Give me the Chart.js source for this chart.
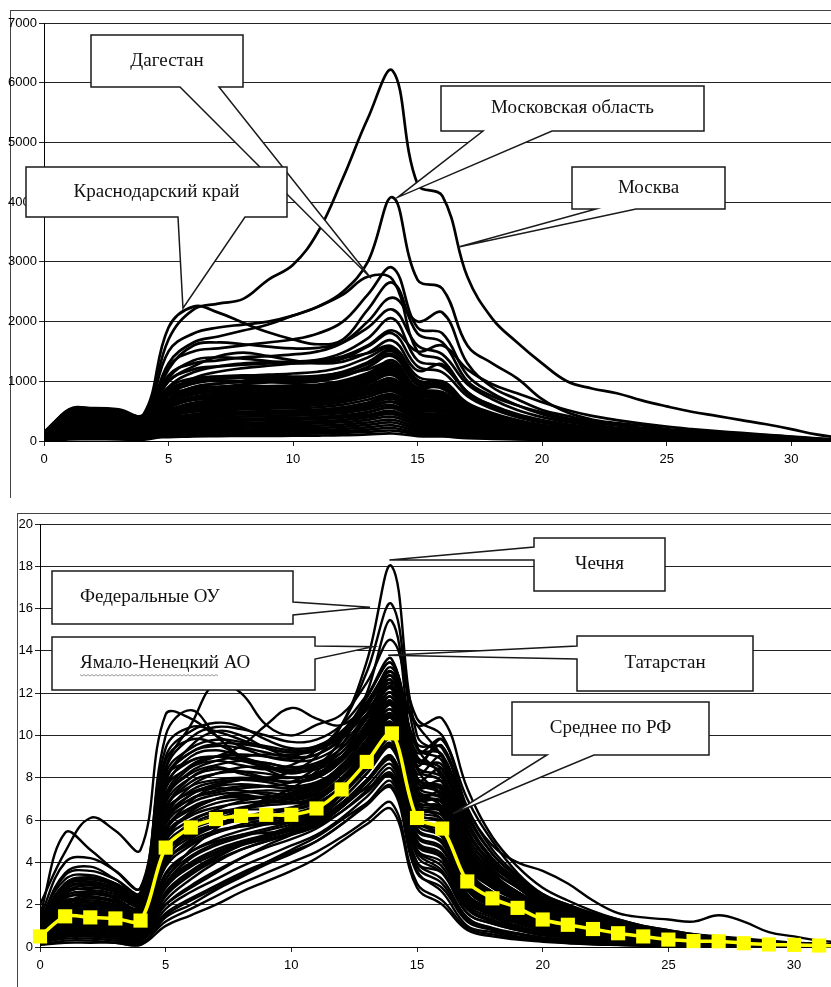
<!DOCTYPE html>
<html>
<head>
<meta charset="utf-8">
<script src="https://cdn.jsdelivr.net/npm/chart.js@4.4.0/dist/chart.umd.min.js"></script>
<style>
  body { margin: 0; background: #fff; width: 831px; height: 987px; overflow: hidden; position: relative; }
  .frame { position: absolute; border-left: 1px solid #444; border-top: 1px solid #444; }
  canvas { position: absolute; left: 0; }
</style>
</head>
<body>
<div class="frame" style="left:10px;top:10px;width:830px;height:487px"></div>
<div class="frame" style="left:17px;top:513px;width:820px;height:480px"></div>
<canvas id="topChart" width="831" height="500" style="top:0"></canvas>
<canvas id="bottomChart" width="831" height="487" style="top:500px"></canvas>
<script>
// Day index along the x axis
const days = [0,1,2,3,4,5,6,7,8,9,10,11,12,13,14,15,16,17,18,19,20,21,22,23,24,25,26,27,28,29,30,31,32];
const xTicks = [0,5,10,15,20,25,30];
const yTicksTop = [0,1000,2000,3000,4000,5000,6000,7000];
const yTicksBottom = [0,2,4,6,8,10,12,14,16,18,20];

// ---- Top chart: absolute values ----
const moscow = [150,500,520,500,420,1700,2200,2300,2380,2700,2950,3500,4400,5400,6200,4300,4100,2750,2050,1650,1300,1000,880,800,680,580,490,420,350,280,200,110,50];
const moscowOblast = [100,450,470,450,380,1500,1800,1900,1950,2000,2100,2250,2500,3000,4080,2700,2550,1600,1300,1050,700,480,360,300,260,200,170,140,120,100,70,40,15];
const krasnodar = [100,530,550,530,450,1900,2250,2150,1980,1820,1700,1620,1700,2200,2650,1800,1650,1000,750,600,480,380,310,260,210,170,140,115,95,75,50,30,10];
const dagestan = [80,420,440,420,350,1300,1650,1750,1850,1950,2100,2250,2450,2750,2700,1500,1350,800,600,450,350,280,230,190,150,120,100,80,65,50,35,20,10];

const otherRegionsTop = [
  [60,380,400,380,300,1250,1500,1550,1600,1650,1700,1800,2000,2450,2900,1900,1800,1100,800,600,450,350,280,220,180,150,120,100,80,60,40,25,10],
  [50,350,370,350,280,1100,1300,1350,1400,1420,1450,1500,1650,2000,2400,2000,2150,1300,900,700,520,420,330,270,220,180,140,110,90,70,50,30,15],
  [40,300,320,310,260,1200,1600,1650,1620,1580,1550,1560,1650,1900,2200,1600,1450,950,700,520,400,320,260,210,170,140,110,90,70,55,40,25,10],
  [30,260,280,260,220,900,1150,1250,1300,1320,1330,1360,1480,1720,2050,1350,1250,820,590,440,340,270,215,175,145,118,95,78,60,45,30,20,8],
  [45,290,310,300,240,1050,1350,1400,1380,1340,1300,1310,1380,1580,1800,1250,1150,750,540,400,310,250,200,160,130,105,85,70,55,40,28,18,6],
  [35,480,500,470,380,1000,1250,1420,1480,1420,1350,1300,1330,1480,1680,1180,1280,820,560,420,320,260,210,170,135,110,90,72,56,42,30,18,6],
  [30,220,240,230,190,780,1050,1160,1220,1260,1300,1340,1390,1470,1580,1080,980,640,470,350,270,220,175,140,115,95,75,60,48,36,25,15,5],
  [28,240,250,240,200,850,1000,1060,1090,1110,1130,1160,1240,1400,1550,1020,960,620,450,340,260,210,170,135,110,90,72,58,45,34,24,14,5],
  [25,200,215,200,165,760,960,1010,1000,990,980,1000,1080,1240,1450,960,880,560,400,300,230,185,150,120,98,80,64,52,40,30,21,12,4],
  [25,440,460,440,360,700,860,900,950,980,1010,1050,1110,1200,1300,880,820,520,380,290,220,175,140,112,92,75,60,48,38,28,20,12,4],
  [20,180,195,180,150,640,800,830,850,860,875,905,965,1080,1250,820,760,480,350,260,200,160,128,102,84,68,54,44,34,26,18,10,4],
  [22,500,520,490,400,620,720,760,780,790,800,820,880,990,1120,760,700,440,320,240,185,148,118,95,78,62,50,40,32,24,16,9,3],
  [18,160,170,160,130,560,690,700,720,735,745,765,830,920,1040,690,640,410,300,225,170,138,110,88,72,58,46,37,29,22,15,8,3],
  [40,420,440,420,340,520,620,650,670,680,690,710,760,860,960,650,600,380,280,210,160,128,102,82,67,54,43,34,27,20,14,8,3],
  [15,140,150,140,110,480,580,605,620,630,640,660,710,800,900,600,560,350,260,195,148,118,94,76,62,50,40,32,25,19,13,7,2],
  [30,380,400,380,300,440,530,560,580,590,600,615,660,740,830,560,520,330,240,180,138,110,88,70,57,46,37,29,23,17,12,7,2],
  [12,120,130,120,95,400,490,510,530,540,550,565,610,690,780,520,480,300,220,166,127,101,81,65,53,42,34,27,21,16,11,6,2],
  [25,330,345,330,260,370,450,470,490,500,510,525,560,630,720,480,440,280,205,154,118,94,75,60,49,39,31,25,19,15,10,6,2],
  [10,100,110,100,80,340,410,430,450,460,470,480,515,580,660,440,405,255,188,141,108,86,69,55,45,36,29,23,18,13,9,5,2],
  [20,290,300,290,230,310,380,400,410,420,430,440,470,530,600,400,370,235,172,129,99,79,63,50,41,33,26,21,16,12,8,5,2],
  [8,85,90,85,70,280,340,360,370,380,390,400,430,480,550,365,340,215,157,118,90,72,58,46,38,30,24,19,15,11,8,4,1],
  [18,250,260,250,200,260,310,330,340,350,355,365,390,440,500,330,305,195,143,107,82,66,52,42,34,27,22,17,13,10,7,4,1],
  [6,70,75,70,55,230,280,295,305,312,318,327,350,395,450,297,275,175,128,96,74,59,47,38,31,24,19,15,12,9,6,3,1],
  [15,210,220,210,170,210,250,265,275,280,285,293,314,355,405,266,246,157,115,86,66,53,42,34,27,22,17,14,11,8,5,3,1],
  [5,55,60,55,45,180,220,232,240,246,250,257,275,310,355,234,216,138,101,76,58,46,37,30,24,19,15,12,9,7,5,3,1],
  [12,170,180,170,140,160,190,200,208,212,216,222,238,270,310,203,187,119,87,66,50,40,32,26,21,16,13,10,8,6,4,2,1],
  [4,40,45,40,32,135,160,170,176,180,183,188,201,228,262,172,158,101,74,56,43,34,27,22,18,14,11,9,7,5,3,2,0],
  [10,130,140,130,105,110,135,142,147,150,153,157,168,190,218,143,132,84,62,46,36,28,23,18,15,11,9,7,6,4,3,2,0],
  [3,28,30,28,22,90,108,114,118,120,122,126,135,152,175,115,106,67,49,37,29,23,18,14,12,9,7,6,4,3,2,1,0],
  [8,90,95,90,72,65,78,82,85,87,88,91,97,110,126,83,76,48,35,27,21,16,13,10,8,7,5,4,3,2,2,1,0],
  [70,520,540,510,430,900,1050,1080,1050,1000,960,930,950,1060,1200,900,1000,620,420,320,250,200,160,130,105,85,68,55,43,32,22,13,5],
  [35,470,490,460,360,760,880,910,920,910,900,910,960,1100,1350,880,940,600,410,310,240,192,154,123,100,80,64,51,40,30,21,12,4],
  [15,200,220,200,160,350,580,700,780,820,850,880,930,1020,1150,720,650,400,290,220,170,135,108,86,70,56,45,36,28,21,14,8,3],
  [10,150,160,150,120,250,400,500,560,600,630,660,710,790,880,560,500,310,225,170,130,104,83,66,54,43,34,27,21,16,11,6,2],
  [50,400,420,400,320,1000,1200,1250,1280,1300,1320,1350,1420,1600,1850,1500,1600,1200,950,800,650,520,420,350,290,240,200,165,135,105,75,45,20],
  [30,300,320,300,240,700,900,960,1000,1020,1040,1070,1140,1300,1500,1000,920,580,420,320,245,195,158,127,103,84,67,54,42,31,22,13,5],
  [20,220,230,220,180,620,780,820,840,850,860,880,940,1060,1220,800,740,470,340,255,195,156,126,101,82,66,53,43,33,25,17,10,4],
  [15,180,190,180,145,540,690,730,750,760,770,790,850,960,1100,720,670,420,305,228,175,140,112,90,73,59,47,38,30,22,15,9,3],
  [25,280,300,280,230,760,980,1040,1060,1060,1060,1080,1150,1290,1450,960,900,570,410,305,235,188,150,121,98,79,63,51,40,30,21,12,4],
  [12,140,150,140,115,450,580,620,640,650,660,680,730,830,960,620,570,360,260,195,150,120,96,77,62,50,40,32,25,19,13,8,3],
  [18,200,210,200,160,580,740,790,810,820,830,850,910,1030,1180,770,710,450,325,243,187,150,120,96,78,63,50,41,32,24,16,9,3],
  [10,110,120,110,90,380,500,540,560,570,580,600,650,740,860,550,505,320,232,174,134,107,86,69,56,45,36,29,22,17,12,7,2],
  [28,330,350,330,270,820,1020,1080,1100,1090,1080,1090,1160,1320,1520,1020,960,620,450,335,258,206,165,132,107,87,69,56,44,33,23,13,5],
  [8,90,100,90,75,320,430,465,485,495,505,520,565,645,750,480,440,280,203,152,117,94,75,60,49,39,31,25,19,15,10,6,2],
  [22,240,250,240,195,660,840,890,910,920,925,945,1010,1140,1310,860,800,510,370,275,212,170,136,109,88,71,57,46,36,27,19,11,4],
  [6,70,80,70,58,270,360,390,410,420,430,445,485,555,650,415,380,240,175,131,101,81,65,52,42,34,27,22,17,13,9,5,2],
  [16,170,180,170,140,500,640,680,700,710,720,740,795,900,1040,680,630,400,290,217,167,134,107,86,70,56,45,36,28,21,14,8,3],
  [5,55,60,55,45,220,300,330,350,360,370,385,420,485,570,360,330,210,152,114,88,70,56,45,37,29,23,19,15,11,8,4,1],
  [24,260,275,260,210,700,900,960,990,1000,1010,1030,1100,1240,1420,940,880,560,405,302,232,186,149,119,97,78,62,50,39,29,20,12,4],
  [10,125,135,125,100,420,540,580,600,610,620,640,690,785,910,590,545,345,250,187,144,115,92,74,60,48,38,31,24,18,12,7,2],
  [14,155,165,155,125,480,610,650,670,680,690,710,765,870,1000,650,600,380,276,206,159,127,102,82,66,53,43,34,27,20,14,8,3],
  [4,45,50,45,36,180,250,275,290,300,310,322,352,410,480,300,275,175,127,95,73,58,47,38,31,24,19,15,12,9,6,3,1],
  [20,230,240,230,185,640,810,860,880,890,900,920,985,1115,1280,840,780,495,360,268,207,165,132,106,86,69,55,45,35,26,18,10,4],
  [7,80,88,80,65,300,400,432,452,462,472,487,530,606,705,450,412,262,190,142,110,88,70,56,46,37,29,23,18,14,9,5,2],
  [12,135,145,135,110,440,565,605,625,635,645,665,716,815,945,612,565,358,260,194,150,120,96,77,62,50,40,32,25,19,13,7,2]
];

// ---- Bottom chart: relative values ----
const meanRF = [0.5,1.45,1.4,1.35,1.25,4.7,5.65,6.05,6.2,6.25,6.25,6.55,7.45,8.75,10.1,6.1,5.6,3.1,2.3,1.85,1.3,1.05,0.85,0.65,0.5,0.35,0.28,0.27,0.18,0.12,0.1,0.07,0.05];
const chechnya = [0.5,2.0,2.5,2.3,1.5,6.5,8.0,8.5,8.2,8.0,8.3,9.0,10.5,13.5,18.0,10.0,9.0,5.0,3.5,2.5,1.8,1.2,0.9,0.7,0.5,0.4,0.3,0.2,0.15,0.1,0.1,0.05,0.05];
const federalOU = [1.0,3.0,3.2,3.0,2.5,7.5,8.5,8.8,8.6,8.4,8.6,9.3,10.5,13.0,16.2,9.5,8.0,4.5,3.0,2.2,1.6,1.2,0.9,0.7,0.5,0.4,0.3,0.25,0.2,0.15,0.1,0.05,0.05];
const yamal = [0.3,1.0,1.2,1.1,0.8,4.0,5.5,6.0,6.5,7.0,7.5,8.3,9.5,12.0,15.4,8.5,7.0,3.5,2.3,1.6,1.2,0.9,0.7,0.5,0.4,0.3,0.2,0.15,0.1,0.1,0.05,0.05,0];
const tatarstan = [0.6,1.8,2.0,1.9,1.5,6.0,7.0,7.3,7.5,7.6,7.8,8.5,9.8,11.8,13.6,8.0,7.2,3.8,2.5,1.8,1.3,1.0,0.8,0.6,0.45,0.35,0.25,0.2,0.15,0.1,0.08,0.05,0.03];

const otherRegionsShare = [
  [0.3,0.8,0.9,0.8,0.6,2.5,3.5,4.2,4.8,5.2,5.6,6.0,6.8,7.5,8.0,4.0,3.5,1.8,1.2,0.9,0.6,0.5,0.4,0.3,0.2,0.15,0.1,0.1,0.05,0.05,0.03,0.02,0],
  [0.6,1.8,1.9,1.7,1.4,5.5,6.5,7.0,7.2,7.0,6.8,7.0,7.8,9.0,10.5,6.5,6.0,3.3,2.5,2.0,1.5,1.2,1.0,0.8,0.6,0.45,0.35,0.3,0.2,0.15,0.1,0.08,0.05],
  [1.0,2.8,3.0,2.7,2.2,7.0,8.2,8.6,8.8,8.7,8.5,8.6,9.2,10.5,12.0,8.0,7.5,4.5,3.2,2.5,1.8,1.4,1.1,0.9,0.7,0.5,0.4,0.35,0.25,0.2,0.15,0.1,0.05],
  [0.2,0.5,0.6,0.5,0.3,1.5,2.2,2.8,3.4,4.0,4.6,5.2,6.0,6.8,7.5,3.5,2.8,1.2,0.8,0.5,0.4,0.3,0.2,0.15,0.1,0.1,0.05,0.05,0.03,0.02,0.01,0,0],
  [0.8,2.2,2.1,2.0,1.7,6.2,7.4,7.8,7.9,7.8,7.6,7.8,8.5,9.8,11.2,7.2,6.8,3.8,2.8,2.2,1.6,1.3,1.0,0.8,0.6,0.45,0.35,0.3,0.2,0.15,0.12,0.08,0.05],
  [0.4,1.2,1.1,1.0,0.9,4.0,5.0,5.5,5.7,5.8,5.9,6.2,7.0,8.2,9.5,5.5,5.0,2.7,2.0,1.5,1.1,0.9,0.7,0.55,0.4,0.3,0.25,0.2,0.15,0.1,0.08,0.05,0.03],
  [1.5,5.4,4.6,3.6,2.8,8.0,9.2,9.5,9.4,9.0,8.8,8.9,9.6,11.0,12.8,9.0,8.4,5.2,3.8,3.0,2.2,1.7,1.3,1.0,0.8,0.6,0.5,0.4,0.3,0.2,0.15,0.1,0.05],
  [2.0,4.5,6.1,5.5,4.6,11.0,10.8,10.0,9.5,9.2,9.0,9.5,10.0,11.0,12.5,10.5,9.0,6.5,4.8,4.0,3.6,3.0,2.2,1.6,1.4,1.3,1.2,1.5,1.2,0.7,0.5,0.3,0.2],
  [1.2,3.5,3.8,3.2,2.5,8.5,10.5,12.5,12.0,10.5,10.0,10.5,11.0,12.5,14.5,10.8,10.0,7.0,5.0,3.5,2.5,2.0,1.6,1.3,1.0,0.8,0.6,0.5,0.4,0.3,0.2,0.15,0.1],
  [0.8,2.5,3.0,2.8,2.0,10.0,11.2,10.0,9.0,8.5,8.2,8.5,9.0,10.0,11.5,8.5,8.0,5.0,3.5,2.6,2.0,1.5,1.2,0.9,0.7,0.55,0.4,0.35,0.25,0.2,0.15,0.1,0.05],
  [0.5,1.5,1.8,1.6,1.2,7.0,8.5,9.0,9.5,10.5,11.3,10.8,10.5,11.5,13.0,10.5,10.8,7.5,5.2,3.8,2.8,2.2,1.7,1.3,1.0,0.8,0.6,0.45,0.35,0.25,0.2,0.15,0.1],
  [0.3,0.7,0.8,0.7,0.5,3.0,4.2,4.8,5.2,5.5,5.8,6.2,7.2,8.5,9.8,5.0,4.2,2.0,1.4,1.0,0.7,0.55,0.4,0.3,0.22,0.15,0.12,0.1,0.08,0.05,0.04,0.03,0.02],
  [0.9,2.4,2.6,2.4,2.0,6.8,8.0,8.4,8.3,8.0,7.8,8.0,8.8,10.2,11.8,7.8,7.2,4.0,3.0,2.3,1.7,1.4,1.1,0.85,0.65,0.5,0.4,0.32,0.25,0.18,0.12,0.08,0.05],
  [0.2,0.4,0.4,0.3,0.2,1.2,1.8,2.4,3.0,3.5,4.0,4.5,5.2,6.0,6.8,3.0,2.2,0.9,0.6,0.4,0.3,0.2,0.15,0.1,0.08,0.05,0.04,0.03,0.02,0.01,0.01,0,0],
  [0.7,1.9,2.0,1.9,1.6,5.8,6.8,7.2,7.3,7.3,7.2,7.5,8.3,9.6,11.0,6.8,6.4,3.6,2.6,2.1,1.5,1.2,0.95,0.75,0.55,0.42,0.33,0.28,0.2,0.14,0.1,0.07,0.04],
  [0.4,1.0,1.0,0.9,0.7,3.5,4.5,5.0,5.3,5.4,5.5,5.8,6.6,7.8,9.0,5.2,4.6,2.4,1.7,1.3,0.9,0.75,0.6,0.45,0.35,0.25,0.2,0.17,0.12,0.08,0.06,0.04,0.02],
  [1.1,2.6,2.9,2.6,2.1,7.5,9.0,9.3,9.0,8.6,8.3,8.5,9.2,10.8,12.3,8.8,9.5,6.0,4.2,3.2,2.4,1.9,1.5,1.2,0.9,0.7,0.55,0.45,0.35,0.25,0.2,0.12,0.08],
  [0.6,1.6,1.5,1.4,1.1,4.8,5.8,6.3,6.6,6.8,6.9,7.2,8.0,9.2,10.5,6.2,5.4,2.9,2.1,1.6,1.2,0.95,0.75,0.58,0.44,0.33,0.26,0.22,0.16,0.11,0.08,0.05,0.03],
  [0.3,0.9,1.0,0.9,0.7,2.0,2.8,3.5,4.2,4.8,5.3,5.9,6.8,7.9,9.0,4.6,3.8,1.8,1.2,0.9,0.65,0.5,0.4,0.3,0.2,0.15,0.12,0.1,0.07,0.05,0.03,0.02,0.01],
  [1.3,3.2,3.4,3.0,2.4,7.8,9.5,10.2,10.0,9.4,9.0,9.1,9.8,11.3,13.2,9.4,8.8,5.5,4.0,3.1,2.3,1.8,1.4,1.1,0.85,0.65,0.5,0.4,0.3,0.22,0.15,0.1,0.06],
  [0.5,1.3,1.3,1.2,1.0,4.5,5.4,5.8,6.0,6.1,6.2,6.5,7.4,8.7,10.0,6.0,5.6,3.0,2.2,1.7,1.25,1.0,0.8,0.6,0.45,0.34,0.27,0.24,0.17,0.12,0.09,0.06,0.04],
  [0.2,0.6,0.7,0.6,0.4,2.2,3.2,4.0,4.6,5.0,5.4,5.8,6.6,7.8,8.8,4.5,3.6,1.6,1.1,0.8,0.55,0.45,0.35,0.25,0.18,0.13,0.1,0.08,0.06,0.04,0.03,0.02,0.01],
  [0.7,2.0,2.3,2.2,1.8,6.5,7.8,8.2,8.3,8.2,8.0,8.2,9.0,10.6,12.2,7.5,6.6,3.5,2.6,2.0,1.5,1.2,0.95,0.75,0.58,0.45,0.35,0.3,0.22,0.16,0.11,0.08,0.05],
  [0.4,1.1,1.2,1.1,0.9,3.8,4.8,5.4,5.8,6.0,6.2,6.6,7.6,9.0,10.8,6.4,5.8,3.0,2.1,1.6,1.15,0.92,0.72,0.55,0.42,0.31,0.24,0.2,0.15,0.1,0.08,0.05,0.03],
  [0.1,0.3,0.3,0.2,0.1,1.0,1.5,2.0,2.6,3.1,3.6,4.2,5.0,5.8,6.5,2.8,2.0,0.8,0.5,0.35,0.25,0.18,0.12,0.09,0.06,0.04,0.03,0.02,0.01,0.01,0,0,0],
  [0.9,2.3,2.4,2.2,1.9,6.6,7.6,7.9,8.0,7.9,7.8,8.1,8.9,10.3,11.6,7.4,7.0,4.0,2.9,2.3,1.7,1.35,1.05,0.82,0.62,0.48,0.38,0.32,0.24,0.17,0.12,0.08,0.05],
  [0.6,1.4,1.6,1.5,1.3,5.2,6.2,6.6,6.8,6.9,7.0,7.3,8.2,9.5,11.0,6.6,6.2,3.4,2.5,1.9,1.4,1.1,0.88,0.68,0.52,0.39,0.3,0.26,0.19,0.13,0.1,0.07,0.04],
  [0.3,0.8,0.9,0.8,0.6,2.8,3.8,4.4,4.9,5.3,5.7,6.1,7.0,8.2,9.4,5.3,4.7,2.3,1.6,1.2,0.85,0.68,0.52,0.4,0.3,0.22,0.17,0.14,0.1,0.07,0.05,0.03,0.02],
  [1.0,3.0,3.3,3.0,2.3,8.8,9.8,9.6,9.0,8.4,8.0,8.2,8.9,10.2,11.6,7.6,7.0,4.2,3.1,2.4,1.8,1.45,1.15,0.9,0.7,0.54,0.42,0.36,0.27,0.19,0.14,0.09,0.06],
  [0.5,1.7,1.8,1.6,1.3,5.0,6.0,6.4,6.5,6.5,6.5,6.8,7.6,8.8,10.2,6.3,5.9,3.2,2.4,1.9,1.35,1.08,0.86,0.66,0.5,0.37,0.29,0.25,0.18,0.12,0.09,0.06,0.04],
  [0.8,2.0,2.2,2.0,1.5,6.0,7.2,7.5,7.4,7.2,7.0,7.2,8.0,9.4,10.8,7.0,7.3,4.3,3.1,2.3,1.6,1.25,1.0,0.78,0.6,0.45,0.35,0.3,0.22,0.15,0.11,0.07,0.05],
  [0.2,0.5,0.5,0.4,0.3,1.8,2.6,3.2,3.8,4.3,4.8,5.3,6.1,7.1,8.1,4.0,3.2,1.4,0.9,0.65,0.45,0.35,0.26,0.2,0.15,0.1,0.08,0.06,0.04,0.03,0.02,0.01,0.01],
  [1.4,4.0,4.2,3.6,2.8,9.0,10.2,10.6,10.4,9.8,9.4,9.5,10.2,11.6,13.0,9.6,9.4,6.2,4.4,3.3,2.4,1.9,1.5,1.15,0.9,0.7,0.55,0.45,0.35,0.26,0.2,0.14,0.09],
  [0.4,1.2,1.3,1.2,1.0,4.2,5.2,5.7,6.0,6.2,6.3,6.7,7.6,8.9,10.3,5.8,5.2,2.7,1.9,1.45,1.05,0.84,0.66,0.5,0.38,0.28,0.22,0.19,0.14,0.09,0.07,0.05,0.03],
  [0.6,1.6,1.7,1.6,1.4,5.6,6.6,7.0,7.1,7.1,7.1,7.4,8.2,9.4,10.6,7.0,6.9,4.1,3.0,2.3,1.65,1.3,1.02,0.8,0.61,0.46,0.36,0.31,0.23,0.16,0.12,0.08,0.05],
  [0.3,0.9,0.9,0.8,0.6,3.2,4.3,4.9,5.3,5.6,5.9,6.3,7.2,8.4,9.6,5.6,5.0,2.5,1.8,1.35,0.96,0.76,0.6,0.46,0.35,0.26,0.2,0.17,0.12,0.08,0.06,0.04,0.02],
  [0.9,2.6,2.7,2.5,2.0,7.2,8.6,9.0,9.1,9.0,8.9,9.1,9.9,11.4,12.8,8.4,7.8,4.7,3.4,2.6,1.9,1.5,1.2,0.93,0.72,0.55,0.43,0.37,0.28,0.2,0.14,0.1,0.06],
  [0.1,0.2,0.2,0.2,0.1,1.4,2.0,2.7,3.3,3.9,4.4,5.0,5.8,6.7,7.6,3.6,2.6,1.0,0.7,0.45,0.32,0.25,0.18,0.13,0.09,0.06,0.05,0.04,0.03,0.02,0.01,0.01,0],
  [0.7,1.8,1.9,1.8,1.5,5.9,7.0,7.4,7.6,7.6,7.5,7.7,8.6,10.0,11.4,6.8,6.0,3.2,2.3,1.8,1.3,1.05,0.83,0.64,0.49,0.37,0.29,0.25,0.18,0.13,0.09,0.06,0.04],
  [0.5,1.4,1.4,1.3,1.1,4.4,5.3,5.8,6.1,6.3,6.5,6.9,7.9,9.3,10.9,6.9,6.6,3.9,2.9,2.3,1.7,1.35,1.05,0.82,0.62,0.47,0.37,0.32,0.23,0.16,0.12,0.08,0.05],
  [0.4,1.0,1.1,1.0,0.8,3.2,4.6,5.6,6.4,6.9,7.2,7.6,8.4,9.6,11.0,6.6,6.4,3.5,2.5,1.9,1.4,1.1,0.85,0.66,0.5,0.38,0.3,0.25,0.18,0.12,0.09,0.06,0.04],
  [0.7,2.1,2.3,2.1,1.7,7.6,8.8,9.0,8.9,8.7,8.5,8.7,9.4,10.8,12.2,8.6,9.8,6.4,4.4,3.3,2.4,1.9,1.5,1.15,0.88,0.68,0.53,0.44,0.33,0.24,0.17,0.11,0.07],
  [0.3,0.7,0.7,0.6,0.5,2.6,3.6,4.3,4.8,5.1,5.4,5.8,6.6,7.6,8.6,4.8,4.2,2.1,1.5,1.1,0.78,0.62,0.48,0.37,0.28,0.2,0.16,0.13,0.09,0.06,0.05,0.03,0.02],
  [0.9,2.5,2.8,2.6,2.1,8.2,9.4,9.8,9.7,9.5,9.3,9.4,10.1,11.8,13.4,9.0,8.2,5.0,3.6,2.8,2.0,1.6,1.25,0.97,0.75,0.58,0.45,0.38,0.29,0.2,0.15,0.1,0.06],
  [0.5,1.2,1.3,1.2,1.0,4.6,5.9,6.5,6.9,7.1,7.3,7.7,8.6,10.0,11.6,7.2,6.3,3.3,2.4,1.8,1.3,1.05,0.82,0.63,0.48,0.36,0.28,0.24,0.17,0.12,0.09,0.06,0.04],
  [0.6,1.5,1.6,1.5,1.2,5.4,6.9,7.6,7.9,8.0,8.0,8.2,9.0,10.4,12.0,7.9,8.4,5.2,3.7,2.8,2.0,1.6,1.25,0.97,0.75,0.58,0.45,0.38,0.29,0.2,0.15,0.1,0.06],
  [0.2,0.6,0.6,0.5,0.4,2.4,3.4,4.1,4.6,5.0,5.3,5.7,6.4,7.3,8.2,4.6,4.0,1.9,1.3,0.95,0.68,0.54,0.42,0.32,0.24,0.18,0.14,0.11,0.08,0.06,0.04,0.03,0.02],
  [1.1,3.0,3.2,2.9,2.3,8.0,8.8,9.0,8.8,8.5,8.3,8.4,9.0,10.4,11.8,7.8,7.4,4.4,3.2,2.5,1.8,1.45,1.14,0.88,0.68,0.52,0.41,0.35,0.26,0.18,0.13,0.09,0.06],
  [0.4,1.0,1.1,1.0,0.8,3.9,5.1,5.7,6.1,6.4,6.6,7.0,7.9,9.2,10.6,6.0,5.3,2.8,2.0,1.5,1.1,0.86,0.68,0.52,0.4,0.3,0.23,0.2,0.14,0.1,0.07,0.05,0.03],
  [0.8,2.3,2.5,2.3,1.8,7.0,8.3,8.8,9.0,9.1,9.1,9.3,10.0,11.2,12.4,8.2,9.0,5.6,3.9,2.9,2.1,1.7,1.3,1.0,0.78,0.6,0.47,0.4,0.3,0.21,0.15,0.1,0.06],
  [0.3,0.8,0.9,0.8,0.7,3.0,4.0,4.6,5.0,5.3,5.6,6.0,6.8,7.9,9.0,5.0,4.4,2.3,1.6,1.2,0.85,0.68,0.53,0.41,0.31,0.23,0.18,0.15,0.11,0.07,0.05,0.04,0.02],
  [0.6,1.8,2.0,1.8,1.4,6.4,7.3,7.6,7.7,7.6,7.5,7.7,8.4,9.8,11.4,7.3,6.8,3.9,2.8,2.2,1.6,1.25,0.98,0.76,0.58,0.44,0.34,0.29,0.21,0.15,0.11,0.07,0.05],
  [0.5,1.3,1.5,1.4,1.1,5.0,6.4,7.0,7.3,7.4,7.4,7.6,8.4,9.7,11.2,7.6,7.8,4.8,3.4,2.6,1.9,1.5,1.18,0.92,0.71,0.54,0.42,0.36,0.27,0.19,0.14,0.09,0.06],
  [0.2,0.5,0.6,0.5,0.4,2.0,2.9,3.6,4.2,4.7,5.1,5.6,6.4,7.4,8.4,4.3,3.5,1.6,1.1,0.8,0.56,0.44,0.34,0.26,0.2,0.14,0.11,0.09,0.07,0.05,0.03,0.02,0.01],
  [1.2,3.4,3.6,3.2,2.6,9.4,10.4,10.2,9.8,9.4,9.2,9.4,10.0,11.4,12.6,9.2,9.8,6.6,4.6,3.4,2.5,2.0,1.55,1.2,0.93,0.72,0.56,0.47,0.36,0.26,0.19,0.12,0.08],
  [0.4,1.1,1.2,1.1,0.9,4.3,5.6,6.2,6.5,6.7,6.8,7.1,7.9,9.1,10.4,6.0,5.2,2.7,1.9,1.45,1.05,0.84,0.66,0.5,0.38,0.28,0.22,0.19,0.14,0.09,0.07,0.05,0.03],
  [0.7,1.9,2.1,1.9,1.6,6.1,7.6,8.2,8.5,8.5,8.4,8.6,9.4,10.9,12.6,8.0,7.4,4.2,3.0,2.3,1.7,1.35,1.06,0.82,0.63,0.48,0.37,0.31,0.23,0.16,0.12,0.08,0.05],
  [0.3,0.9,1.0,0.9,0.7,3.4,4.5,5.1,5.5,5.8,6.0,6.4,7.3,8.5,9.8,5.6,4.9,2.5,1.8,1.35,0.97,0.77,0.6,0.46,0.35,0.26,0.2,0.17,0.12,0.08,0.06,0.04,0.02],
  [0.5,1.5,1.7,1.5,1.2,5.3,6.3,6.8,7.0,7.1,7.1,7.4,8.3,9.6,11.0,6.9,6.5,3.6,2.6,2.0,1.45,1.15,0.9,0.7,0.53,0.4,0.31,0.27,0.19,0.14,0.1,0.07,0.04],
  [0.9,2.7,3.0,2.7,2.2,7.9,9.2,9.6,9.6,9.4,9.2,9.3,10.0,11.5,13.0,8.8,8.6,5.4,3.9,3.0,2.2,1.75,1.37,1.06,0.82,0.63,0.49,0.41,0.31,0.22,0.16,0.11,0.07],
  [0.2,0.5,0.5,0.4,0.3,1.6,2.3,2.9,3.5,4.0,4.5,5.0,5.8,6.8,7.8,3.8,3.0,1.3,0.85,0.6,0.42,0.33,0.25,0.19,0.14,0.1,0.08,0.06,0.05,0.03,0.02,0.01,0.01],
  [0.6,1.6,1.8,1.6,1.3,5.9,7.2,7.7,7.9,7.9,7.8,8.0,8.8,10.1,11.5,7.6,7.6,4.6,3.3,2.5,1.8,1.45,1.13,0.88,0.68,0.52,0.4,0.34,0.26,0.18,0.13,0.09,0.06],
  [0.4,1.3,1.4,1.3,1.0,4.0,4.9,5.4,5.7,5.9,6.1,6.5,7.4,8.6,9.9,5.9,5.5,3.0,2.2,1.65,1.2,0.95,0.74,0.57,0.44,0.33,0.26,0.22,0.16,0.11,0.08,0.05,0.03],
  [1.0,2.9,3.1,2.8,2.3,8.4,9.9,10.4,10.3,10.0,9.7,9.8,10.5,11.9,13.4,9.4,9.1,5.8,4.1,3.1,2.3,1.8,1.42,1.1,0.85,0.65,0.51,0.43,0.32,0.23,0.17,0.11,0.07],
  [0.3,0.8,0.8,0.7,0.6,2.9,3.9,4.5,4.9,5.2,5.5,5.9,6.7,7.8,8.9,4.9,4.3,2.2,1.55,1.15,0.82,0.65,0.5,0.39,0.3,0.22,0.17,0.14,0.1,0.07,0.05,0.03,0.02]
];

// Callouts: box and wedge base are layout pixels, the tip is in data units
const calloutsTop = [
  { text: 'Дагестан', box: [91, 35, 243, 87], side: 'bottom', base: [180, 219], tip: [13.13, 2726] },
  { text: 'Краснодарский край', box: [26, 167, 287, 217], side: 'bottom', base: [178, 245], tip: [5.58, 2224] },
  { text: 'Московская область', box: [441, 86, 704, 131], side: 'bottom', base: [483, 552], tip: [14.2, 4080] },
  { text: 'Москва', box: [572, 167, 725, 209], side: 'bottom', base: [596, 636], tip: [16.6, 3244] }
];
const calloutsBottom = [
  { text: 'Чечня', box: [534, 38, 665, 91], side: 'left', base: [47, 60], tip: [13.9, 18.3] },
  { text: 'Федеральные ОУ', box: [52, 71, 293, 124], side: 'right', base: [102, 115], tip: [13.13, 16.06], textX: 80 },
  { text: 'Ямало-Ненецкий АО', box: [52, 137, 315, 190], side: 'right', base: [146, 159], tip: [13.25, 14.2], textX: 80, squiggle: 'Ямало-Ненецкий' },
  { text: 'Татарстан', box: [577, 136, 753, 191], side: 'left', base: [146, 159], tip: [13.85, 13.8] },
  { text: 'Среднее по РФ', box: [512, 202, 709, 255], side: 'bottom', base: [547, 594], tip: [16.43, 6.3] }
];

const toPoints = vals => vals.map((v, i) => ({ x: days[i], y: v }));
const blackLine = width => vals => ({
  data: toPoints(vals),
  borderColor: '#000',
  borderWidth: width,
  pointRadius: 0,
  tension: 0.4,
  fill: false
});

function calloutPlugin(list) {
  return {
    id: 'callouts',
    afterDraw(chart) {
      const { ctx, scales: { x, y } } = chart;
      ctx.save();
      list.forEach(c => {
        const [x0, y0, x1, y1] = c.box;
        const tx = x.getPixelForValue(c.tip[0]);
        const ty = y.getPixelForValue(c.tip[1]);
        const [a, b] = c.base;
        ctx.beginPath();
        ctx.moveTo(x0, y0);
        ctx.lineTo(x1, y0);
        if (c.side === 'right') { ctx.lineTo(x1, a); ctx.lineTo(tx, ty); ctx.lineTo(x1, b); }
        ctx.lineTo(x1, y1);
        if (c.side === 'bottom') { ctx.lineTo(b, y1); ctx.lineTo(tx, ty); ctx.lineTo(a, y1); }
        ctx.lineTo(x0, y1);
        if (c.side === 'left') { ctx.lineTo(x0, b); ctx.lineTo(tx, ty); ctx.lineTo(x0, a); }
        ctx.closePath();
        ctx.fillStyle = '#fff';
        ctx.fill();
        ctx.strokeStyle = '#1a1a1a';
        ctx.lineWidth = 1.5;
        ctx.stroke();

        ctx.font = '19px "Liberation Serif", "Times New Roman", serif';
        ctx.fillStyle = '#111';
        ctx.textBaseline = 'middle';
        const cy = (y0 + y1) / 2;
        let lx;
        if (c.textX) {
          ctx.textAlign = 'left';
          lx = c.textX;
        } else {
          ctx.textAlign = 'center';
          lx = (x0 + x1) / 2;
        }
        ctx.fillText(c.text, lx, cy);

        // spell-check squiggle under part of the label
        if (c.squiggle) {
          const w = ctx.measureText(c.squiggle).width;
          const sy = cy + 11;
          ctx.beginPath();
          for (let px = 0; px <= w; px += 2) {
            const py = sy + ((px / 2) % 2 === 0 ? 0 : 1.5);
            if (px === 0) ctx.moveTo(lx + px, py); else ctx.lineTo(lx + px, py);
          }
          ctx.strokeStyle = '#9a9a9a';
          ctx.lineWidth = 1;
          ctx.stroke();
        }
      });
      ctx.restore();
    }
  };
}

function axisOptions(xMax, yMax, yTicks, yWidth, xHeight) {
  const tickFont = { family: '"Liberation Sans", Arial, sans-serif', size: 13 };
  return {
    x: {
      type: 'linear',
      min: 0,
      max: xMax,
      afterBuildTicks: s => { s.ticks = xTicks.map(v => ({ value: v })); },
      afterFit: s => { s.height = xHeight; },
      grid: { drawOnChartArea: false, tickLength: 5, tickColor: '#222' },
      border: { color: '#000', width: 1 },
      ticks: { color: '#000', font: tickFont, padding: 6, maxRotation: 0, callback: v => String(v) }
    },
    y: {
      min: 0,
      max: yMax,
      afterBuildTicks: s => { s.ticks = yTicks.map(v => ({ value: v })); },
      afterFit: s => { s.width = yWidth; },
      grid: { color: '#222', lineWidth: 1, tickLength: 5, tickColor: '#222' },
      border: { color: '#000', width: 1 },
      ticks: { color: '#000', font: tickFont, padding: 2, callback: v => String(v) }
    }
  };
}

const commonOptions = {
  responsive: false,
  animation: false,
  devicePixelRatio: 1,
  events: [],
  plugins: { legend: { display: false }, tooltip: { enabled: false } }
};

// TOP CHART
new Chart(document.getElementById('topChart').getContext('2d'), {
  type: 'line',
  data: {
    datasets: [moscow, moscowOblast, krasnodar, dagestan, ...otherRegionsTop].map(blackLine(2.7))
  },
  options: {
    ...commonOptions,
    layout: { autoPadding: false, padding: { top: 23, left: 0, right: 0, bottom: 0 } },
    scales: axisOptions(31.6, 7000, yTicksTop, 44, 59)
  },
  plugins: [calloutPlugin(calloutsTop)]
});

// BOTTOM CHART
const meanDataset = {
  data: toPoints(meanRF),
  borderColor: '#ffff00',
  borderWidth: 3.5,
  pointStyle: 'rect',
  pointRadius: 10,
  pointBackgroundColor: '#ffff00',
  pointBorderColor: '#ffff00',
  pointBorderWidth: 0,
  tension: 0.3,
  clip: false
};

new Chart(document.getElementById('bottomChart').getContext('2d'), {
  type: 'line',
  data: {
    datasets: [meanDataset, ...[chechnya, federalOU, yamal, tatarstan, ...otherRegionsShare].map(blackLine(2.4))]
  },
  options: {
    ...commonOptions,
    layout: { autoPadding: false, padding: { top: 24, left: 0, right: 0, bottom: 0 } },
    scales: axisOptions(31.47, 20, yTicksBottom, 40, 40)
  },
  plugins: [calloutPlugin(calloutsBottom)]
});
</script>
</body>
</html>
